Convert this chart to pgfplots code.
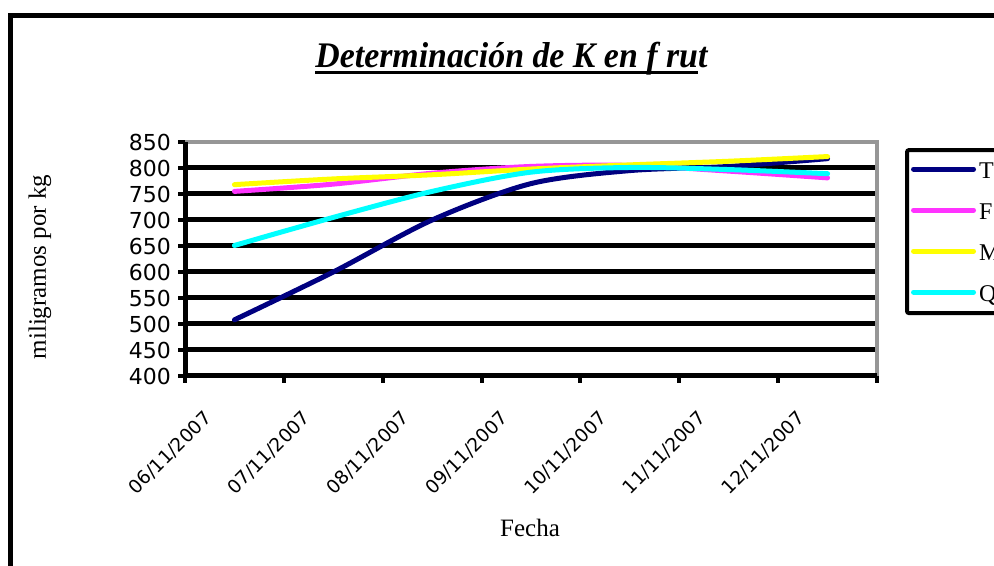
\documentclass[border=0pt]{standalone}
\usepackage{pgfplots}
\pgfplotsset{compat=1.18}
\usepackage{fontspec}
\setmainfont{Liberation Serif}
\newfontfamily\dejavu{DejaVu Sans}
\definecolor{tcol}{RGB}{0,0,128}
\definecolor{fcol}{RGB}{255,51,255}
\definecolor{mcol}{RGB}{255,255,0}
\definecolor{qcol}{RGB}{0,255,255}
\definecolor{borde}{RGB}{150,150,150}
\begin{document}
\begin{tikzpicture}
\useasboundingbox (0,0) rectangle (497pt,283pt);
\clip (0,0) rectangle (497pt,283pt);
% marco exterior del grafico
\draw[line width=2.5pt] (5.25pt,-10pt) -- (5.25pt,275.25pt) -- (520pt,275.25pt);
% titulo
\node[anchor=base west, inner sep=0pt, font=\fontsize{18}{20}\selectfont\bfseries\itshape]
  at (157.5pt,249pt) {\scalebox{0.94}[1]{Determinación de K en f rut}};
\draw[line width=1.5pt] (157.5pt,246.5pt) -- (349pt,246.5pt);
\node[rotate=90, font=\fontsize{12.5}{14}\selectfont] at (20pt,149.5pt) {miligramos por kg};
\node[anchor=base, font=\fontsize{12.5}{14}\selectfont] at (265pt,14.5pt) {Fecha};
\begin{axis}[
  at={(92.5pt,95pt)}, anchor=south west,
  scale only axis, width=346pt, height=117pt,
  xmin=-0.5, xmax=6.5, ymin=400, ymax=850,
  axis line style={draw=none},
  xtick={-0.5,0.5,...,6.5},
  xticklabels={},
  extra x ticks={0,...,6},
  extra x tick labels={06/11/2007,07/11/2007,08/11/2007,09/11/2007,10/11/2007,11/11/2007,12/11/2007},
  extra x tick style={tick style={draw=none}},
  ytick={400,450,...,850},
  extra y ticks={450,500,...,800},
  extra y tick labels={},
  extra y tick style={grid=major, tick style={draw=none}},
  grid style={black, line width=2.5pt},
  xtick pos=bottom, ytick pos=left,
  tick align=outside,
  major tick length=3.5pt,
  every tick/.style={black, line width=2pt},
  /pgf/number format/assume math mode=true,
  ticklabel style={font=\fontsize{11}{13}\selectfont\dejavu},
  xticklabel style={font=\fontsize{9.3}{11}\selectfont\dejavu, inner sep=0pt,
    xshift=-13pt, yshift=-16pt, rotate=45, anchor=east},
  every axis plot/.append style={line width=2.5pt, line cap=round, smooth, tension=0.5},
  legend style={at={(1.0405,0.974)}, anchor=north west, draw=black, line width=2pt,
    rounded corners=1pt, inner xsep=2pt, inner ysep=4pt,
    font=\fontsize{12}{14}\selectfont,
    nodes={inner sep=1.5pt, text height=8.5pt, text depth=0.5pt},
    row sep=8.5pt},
  legend cell align=left,
  legend image code/.code={\draw[#1] (0pt,0.5pt) -- (30pt,0.5pt);},
]
\addplot[tcol] coordinates {(0,508) (1,600) (2,700) (3,770) (4,795) (5,803) (6,818)};
\addplot[fcol] coordinates {(0,755) (1,769) (2,790) (3,803) (4,805) (5,794) (6,781)};
\addplot[mcol] coordinates {(0,768) (1,779) (2,787) (3,798) (4,806) (5,813) (6,822)};
\addplot[qcol] coordinates {(0,651) (1,705) (2,755) (3,792) (4,801) (5,797) (6,789)};
\legend{T,F,M,Q}
\end{axis}
% bordes del area de trazado
\draw[borde, line width=2pt] (current axis.south east) -- (current axis.north east) -- (current axis.north west);
\draw[black, line width=2.5pt] (current axis.north west) -- (current axis.south west) -- (current axis.south east);
\end{tikzpicture}
\end{document}
